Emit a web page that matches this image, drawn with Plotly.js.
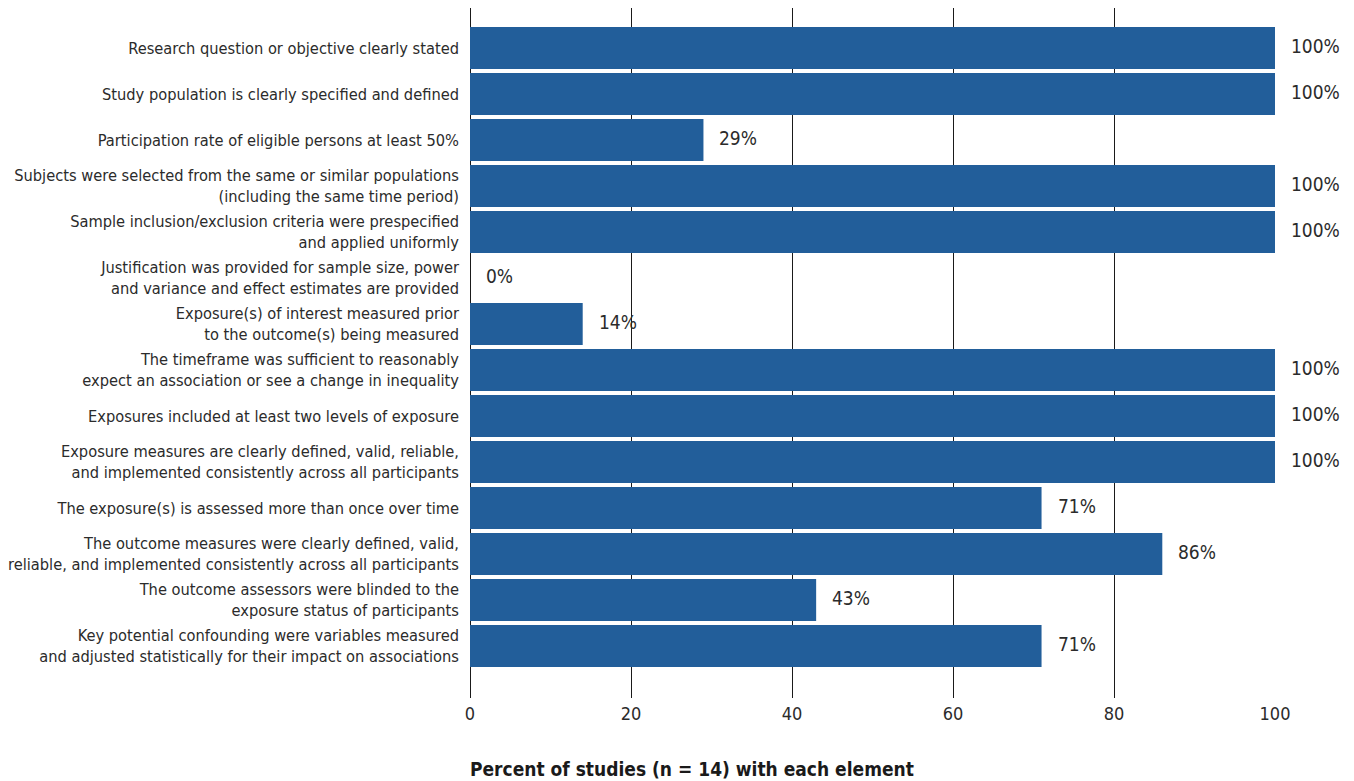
<!DOCTYPE html>
<html>
<head>
<meta charset="utf-8">
<script src="https://cdn.plot.ly/plotly-3.0.1.min.js"></script>
<style>html,body{margin:0;padding:0;background:#fff;}#chart{width:1354px;height:781px;}</style>
</head>
<body>
<div id="chart"></div>
<script>
const categories = [
  "Research question or objective clearly stated",
  "Study population is clearly specified and defined",
  "Participation rate of eligible persons at least 50%",
  "Subjects were selected from the same or similar populations<br>(including the same time period)",
  "Sample inclusion/exclusion criteria were prespecified<br>and applied uniformly",
  "Justification was provided for sample size, power<br>and variance and effect estimates are provided",
  "Exposure(s) of interest measured prior<br>to the outcome(s) being measured",
  "The timeframe was sufficient to reasonably<br>expect an association or see a change in inequality",
  "Exposures included at least two levels of exposure",
  "Exposure measures are clearly defined, valid, reliable,<br>and implemented consistently across all participants",
  "The exposure(s) is assessed more than once over time",
  "The outcome measures were clearly defined, valid,<br>reliable, and implemented consistently across all participants",
  "The outcome assessors were blinded to the<br>exposure status of participants",
  "Key potential confounding were variables measured<br>and adjusted statistically for their impact on associations"
];
const percents = [100, 100, 29, 100, 100, 0, 14, 100, 100, 100, 71, 86, 43, 71];
const valueLabels = ["100%", "100%", "29%", "100%", "100%", "0%", "14%", "100%", "100%", "100%", "71%", "86%", "43%", "71%"];
const xTicks = [0, 20, 40, 60, 80, 100];
const xTitle = "Percent of studies (n = 14) with each element";

const fontFam = '"DejaVu Sans Condensed", "Liberation Sans Narrow", sans-serif';

const trace = {
  type: 'bar',
  orientation: 'h',
  y: categories,
  x: percents,
  marker: {color: '#225e9a', line: {width: 0}},
  hoverinfo: 'none'
};

const valueAnnots = percents.map((v, i) => ({
  x: v, y: categories[i], xref: 'x', yref: 'y',
  text: valueLabels[i], showarrow: false,
  xanchor: 'left', yanchor: 'middle', xshift: 14, yshift: 2,
  font: {family: fontFam, size: 19, color: '#2b2b2b'}
}));

const layout = {
  width: 1354, height: 781,
  margin: {l: 470, r: 79, t: 8, b: 83},
  paper_bgcolor: '#fff', plot_bgcolor: '#fff',
  showlegend: false,
  bargap: 0.087,
  font: {family: fontFam, color: '#2b2b2b'},
  xaxis: {
    range: [0, 100],
    tickvals: xTicks,
    ticktext: xTicks.map(String),
    showgrid: true, gridcolor: '#1a1a1a', gridwidth: 1,
    zeroline: true, zerolinecolor: '#1a1a1a', zerolinewidth: 1,
    showline: false, ticks: '',
    tickfont: {family: fontFam, size: 18, color: '#2b2b2b'},
    ticklabelstandoff: 3,
    fixedrange: true
  },
  yaxis: {
    type: 'category',
    range: [14.13, -0.87],
    autorange: false,
    showgrid: false, zeroline: false, showline: false, ticks: '',
    tickfont: {family: fontFam, size: 16.3, color: '#2b2b2b'},
    ticklabelstandoff: 10,
    fixedrange: true
  },
  annotations: valueAnnots.concat([{
    text: '<b>' + xTitle + '</b>',
    xref: 'paper', yref: 'paper', x: 0, y: -0.103,
    xanchor: 'left', yanchor: 'middle', showarrow: false,
    xshift: -2,
    font: {family: fontFam, size: 19, color: '#1a1a1a'}
  }])
};

Plotly.newPlot('chart', [trace], layout, {displayModeBar: false, staticPlot: true});
</script>
</body>
</html>
